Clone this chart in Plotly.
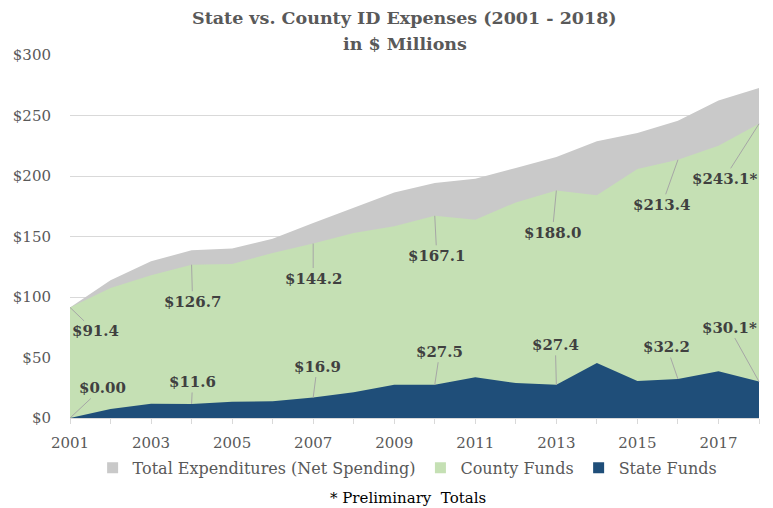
import plotly.graph_objects as go

years = list(range(2001, 2019))
total_exp = [91.4, 113.8, 129.5, 138.6, 140.0, 148.2, 161.2, 173.6, 186.3, 194.2,
             197.8, 206.6, 215.7, 228.7, 235.5, 245.7, 262.3, 272.7]
county_funds = [91.4, 107.4, 117.9, 126.7, 127.3, 136.4, 144.2, 152.9, 158.5, 167.1,
                163.9, 178.2, 188.0, 184.0, 205.8, 213.4, 225.0, 243.1]
state_funds = [0.0, 7.4, 11.8, 11.6, 13.5, 13.8, 16.9, 21.2, 27.5, 27.5,
               33.6, 28.9, 27.4, 45.5, 30.6, 32.2, 38.6, 30.1]

county_label_years = [2001, 2004, 2007, 2010, 2013, 2016, 2018]
county_label_texts = ["$91.4", "$126.7", "$144.2", "$167.1", "$188.0", "$213.4", "$243.1*"]
state_label_years = [2001, 2004, 2007, 2010, 2013, 2016, 2018]
state_label_texts = ["$0.00", "$11.6", "$16.9", "$27.5", "$27.4", "$32.2", "$30.1*"]

y_tick_vals = [0, 50, 100, 150, 200, 250, 300]
y_tick_text = ["$0", "$50", "$100", "$150", "$200", "$250", "$300"]
x_tick_vals = list(range(2001, 2019, 2))

# label offsets (pixels) – layout only
county_offsets = [(25, 24), (1, 37), (0, 35), (2, 40), (-4, 42), (-16, 45), (-35, 55)]
state_offsets = [(32, -30), (1, -22), (4, -31), (5, -33), (-1, -40), (-11, -32), (-30, -54)]

SERIF = "DejaVu Serif, Liberation Serif, serif"
names = ["Total Expenditures (Net Spending)", "County Funds", "State Funds"]
colors = ["#c9c9c9", "#c5e0b4", "#1f4e79"]

fig = go.Figure()
for name, vals, col in zip(names, [total_exp, county_funds, state_funds], colors):
    fig.add_trace(go.Scatter(x=years, y=vals, name=name, mode="lines",
                             line=dict(width=0, color=col), fill="tozeroy", fillcolor=col,
                             showlegend=False, hoverinfo="x+y+name"))
# legend-only square swatches
for name, col in zip(names, colors):
    fig.add_trace(go.Scatter(x=[None], y=[None], name=name, mode="markers",
                             marker=dict(symbol="square", size=11, color=col),
                             showlegend=True))

annotations = []
val_c = dict(zip(years, county_funds))
val_s = dict(zip(years, state_funds))
for yr, txt, (dx, dy) in zip(county_label_years, county_label_texts, county_offsets):
    annotations.append(dict(x=yr, y=val_c[yr], text="<b>%s</b>" % txt, showarrow=True,
                            arrowhead=0, arrowwidth=1, arrowcolor="#a6a6a6", ax=dx, ay=dy,
                            font=dict(family=SERIF, size=15, color="#404040")))
for yr, txt, (dx, dy) in zip(state_label_years, state_label_texts, state_offsets):
    annotations.append(dict(x=yr, y=val_s[yr], text="<b>%s</b>" % txt, showarrow=True,
                            arrowhead=0, arrowwidth=1, arrowcolor="#a6a6a6", ax=dx, ay=dy,
                            font=dict(family=SERIF, size=15, color="#404040")))

annotations.append(dict(xref="paper", yref="paper", x=0.486, y=1.1027, yanchor="middle",
                        text="<b>State vs. County ID Expenses (2001 - 2018)</b>", showarrow=False,
                        font=dict(family=SERIF, size=17.5, color="#595959")))
annotations.append(dict(xref="paper", yref="paper", x=0.486, y=1.031, yanchor="middle",
                        text="<b>in $ Millions</b>", showarrow=False,
                        font=dict(family=SERIF, size=17.5, color="#595959")))
annotations.append(dict(xref="paper", yref="paper", x=0.49, y=-0.22, yanchor="middle",
                        text="* Preliminary  Totals", showarrow=False,
                        font=dict(family=SERIF, size=15, color="#000000")))

fig.update_layout(
    width=773, height=508,
    margin=dict(l=70, r=14, t=55, b=90),
    paper_bgcolor="white", plot_bgcolor="white",
    showlegend=True,
    legend=dict(orientation="h", x=0.49, xanchor="center", y=-0.137, yanchor="middle",
                font=dict(family=SERIF, size=16, color="#595959"),
                traceorder="normal", itemwidth=30, bgcolor="rgba(0,0,0,0)"),
    annotations=annotations,
    xaxis=dict(range=[2001, 2018], tickvals=x_tick_vals, ticktext=[str(v) for v in x_tick_vals],
               showgrid=False, zeroline=False, showline=True, linecolor="#d9d9d9", linewidth=1,
               ticks="outside", ticklen=5, tickcolor="#d9d9d9", ticklabelstandoff=6,
               minor=dict(tickvals=years, ticks="outside", ticklen=5, tickcolor="#d9d9d9"),
               tickfont=dict(family=SERIF, size=15, color="#595959")),
    yaxis=dict(range=[0, 300], tickvals=y_tick_vals, ticktext=y_tick_text,
               showgrid=True, gridcolor="#d9d9d9", gridwidth=1, zeroline=False,
               ticks="", ticklabelstandoff=18,
               tickfont=dict(family=SERIF, size=15, color="#595959")),
)

fig.write_html("out.html", config={"displayModeBar": False},
               post_script="document.body.style.margin='0px';")
